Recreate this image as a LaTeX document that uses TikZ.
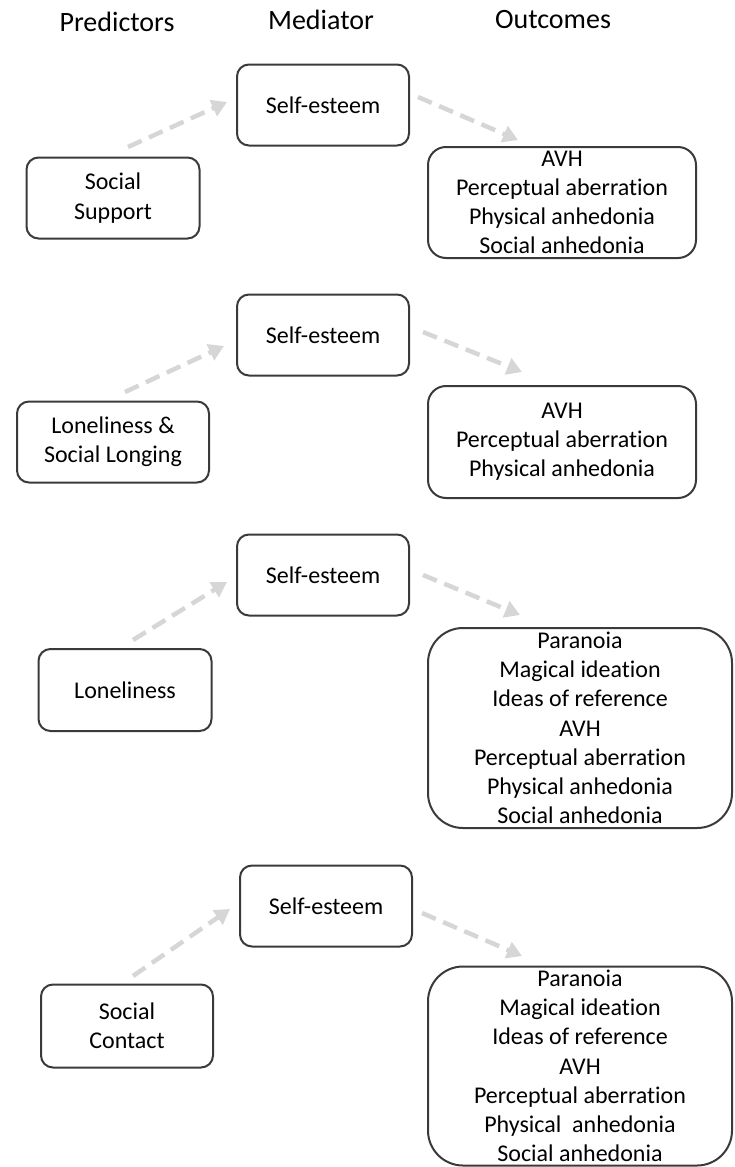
\documentclass[tikz,border=0pt]{standalone}
\usepackage{fontspec}
\setmainfont{Carlito}[Ligatures=NoCommon]
\usetikzlibrary{arrows.meta}
\definecolor{boxline}{HTML}{3A3A3A}
\definecolor{linkgray}{HTML}{D6D6D6}
\tikzset{
  roundbox/.style={draw=boxline, line width=2pt, rounded corners=12pt, align=center,
    inner sep=0pt, font=\fontsize{24}{29.2}\selectfont},
  medbox/.style={roundbox, minimum width=172pt, minimum height=81pt},
  predbox/.style={roundbox, minimum height=81pt},
  outbox/.style={roundbox, minimum width=268pt},
  heading/.style={font=\fontsize{28}{34}\selectfont},
  link/.style={draw=linkgray, line width=4.5pt, dash pattern=on 15pt off 8pt,
    -{Triangle[length=15pt, width=17pt]}}
}
\begin{document}
\begin{tikzpicture}[x=1pt, y=-1pt]
  \useasboundingbox (0,0) rectangle (734,1167);

  % Column headings
  \node[heading] (hpred) at (117,22) {Predictors};
  \node[heading] (hmed) at (321,20) {Mediator};
  \node[heading] (hout) at (553,20) {Outcomes};

  % Mediator boxes
  \foreach \x/\y [count=\n] in {323/105, 323/335, 323/575, 326/906} {
    \node[medbox] (med\n) at (\x,\y) {Self-esteem};
  }

  % Predictors
  \node[predbox, minimum width=173pt] (pred1) at (113,198) {Social\\Support};
  \node[predbox, minimum width=192pt] (pred2) at (113,442) {Loneliness \&\\Social Longing};
  \node[predbox, minimum width=173pt, minimum height=82pt] (pred3) at (125,690) {Loneliness};
  \node[predbox, minimum width=172pt, minimum height=83pt] (pred4) at (127,1026) {Social\\Contact};

  % Outcomes
  \node[outbox, minimum height=111pt, rounded corners=18pt] (out1) at (562,202.5)
    {AVH\\Perceptual aberration\\Physical anhedonia\\Social anhedonia};
  \node[outbox, minimum height=112pt, rounded corners=18pt] (out2) at (562,442)
    {AVH\\Perceptual aberration\\Physical anhedonia};
  \node[outbox, minimum width=304pt, minimum height=200pt, rounded corners=35pt] (out3) at (580,728)
    {Paranoia\\Magical ideation\\Ideas of reference\\AVH\\Perceptual aberration\\Physical anhedonia\\Social anhedonia};
  \node[outbox, minimum width=304pt, minimum height=199pt, rounded corners=35pt] (out4) at (580,1066)
    {Paranoia\\Magical ideation\\Ideas of reference\\AVH\\Perceptual aberration\\Physical\ \ anhedonia\\Social anhedonia};

  % Paths: predictor to mediator, mediator to outcome
  \foreach \ax/\ay/\bx/\by/\cx/\cy/\dx/\dy [count=\n] in {
    128/147/227/102/418/97/518/140,
    125/392/224/346/423/332/522/372,
    133/640/227/582/423/575/520/615,
    133/976/230/909/422/913/522/956} {
    \coordinate (pa\n) at (\ax,\ay);
    \coordinate (pb\n) at (\bx,\by);
    \coordinate (oa\n) at (\cx,\cy);
    \coordinate (ob\n) at (\dx,\dy);
    \draw[link] (pa\n) -- (pb\n);
    \draw[link] (oa\n) -- (ob\n);
  }
\end{tikzpicture}
\end{document}
